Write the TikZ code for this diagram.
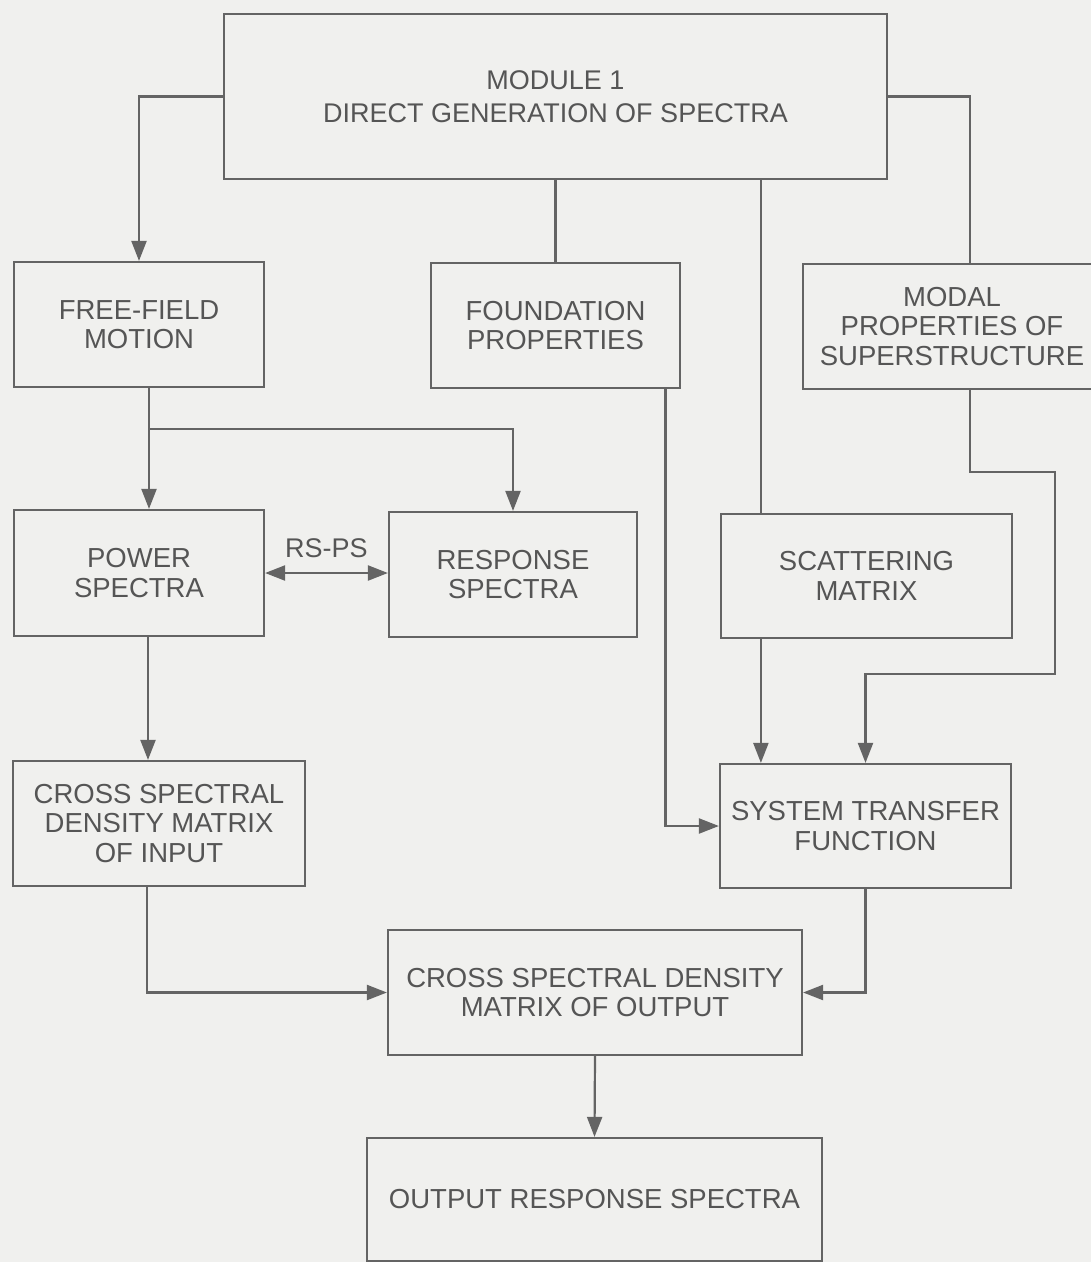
\documentclass[tikz,border=0pt]{standalone}
\usepackage{fontspec}
\setmainfont{Liberation Sans}
\usetikzlibrary{arrows.meta,calc}
\definecolor{bgc}{RGB}{240,240,238}
\definecolor{lnc}{RGB}{100,100,100}
\definecolor{txc}{RGB}{85,85,85}
\begin{document}
\begin{tikzpicture}[x=1pt,y=-1pt,
  box/.style={draw=lnc, line width=2.2pt, inner sep=0pt, align=center, text=txc,
              font=\fontsize{27.5}{29.5}\selectfont},
  conn/.style={draw=lnc, line width=2.2pt},
  arr/.style={conn, -{Triangle[length=20pt,width=15pt]}},
  darr/.style={conn, {Triangle[length=20pt,width=15pt]}-{Triangle[length=20pt,width=15pt]}},
  lab/.style={text=txc, font=\fontsize{27}{29}\selectfont}
]
\fill[bgc] (0,0) rectangle (1091,1262);
\useasboundingbox (0,0) rectangle (1091,1262);

% nodes
\node[box, minimum width=663pt, minimum height=165pt, font=\fontsize{27}{33}\selectfont] (mod) at (555.5,96.5) {MODULE 1\\DIRECT GENERATION OF SPECTRA};
\node[box, minimum width=250pt, minimum height=125pt] (ff) at (139,324.5) {FREE-FIELD\\MOTION};
\node[box, minimum width=249pt, minimum height=125pt] (fp) at (555.5,325.5) {FOUNDATION\\PROPERTIES};
\node[box, minimum width=298pt, minimum height=125pt] (mp) at (952,326.5) {MODAL\\PROPERTIES OF\\SUPERSTRUCTURE};
\node[box, minimum width=250pt, minimum height=126pt] (ps) at (139,573) {POWER\\SPECTRA};
\node[box, minimum width=248pt, minimum height=125pt] (rs) at (513,574.5) {RESPONSE\\SPECTRA};
\node[box, minimum width=291pt, minimum height=124pt] (sm) at (866.5,576) {SCATTERING\\MATRIX};
\node[box, minimum width=292pt, minimum height=125pt] (csi) at (159,823.5) {CROSS SPECTRAL\\DENSITY MATRIX\\OF INPUT};
\node[box, minimum width=291pt, minimum height=124pt] (stf) at (865.5,826) {SYSTEM TRANSFER\\FUNCTION};
\node[box, minimum width=414pt, minimum height=125pt] (cso) at (595,992.5) {CROSS SPECTRAL DENSITY\\MATRIX OF OUTPUT};
\node[box, minimum width=455pt, minimum height=123pt] (ors) at (594.5,1199.5) {OUTPUT RESPONSE SPECTRA};

% connectors from module 1
\draw[arr] (mod.west) -| (ff.north);
\draw[conn] (fp.north) -- (fp.north |- mod.south);
\coordinate (smx) at ($(sm.north west)+(41,0)$);
\draw[conn] (smx |- mod.south) -- (smx);
\coordinate (mpx) at ($(mp.north)+(18,0)$);
\draw[conn] (mod.east) -| (mpx);

% modal properties to system transfer function
\draw[arr] ($(mp.south)+(18,0)$) -- ++(0,82) -- ++(85,0) -- ++(0,202) -| (stf.north);
% scattering matrix to system transfer function
\draw[arr] ($(sm.south west)+(41,0)$) -- ($(stf.north west)+(42,0)$);
% foundation properties to system transfer function
\draw[arr] ($(fp.south)+(110,0)$) |- (stf.west);

% free-field motion branches
\coordinate (ffx) at ($(ff.south)+(10,0)$);
\draw[arr] (ffx) -- (ffx |- ps.north);
\draw[arr] ($(ffx)+(0,41)$) -| (rs.north);

% RS-PS
\draw[darr] (ps.east) -- node[lab, midway, yshift=25pt] (rsps) {RS-PS} (ps.east -| rs.west);

% power spectra to cross spectral density of input
\draw[arr] ($(ps.south)+(9,0)$) -- ($(csi.north)+(-11,0)$);

% to cross spectral density of output
\draw[arr] ($(csi.south)+(-12,0)$) |- (cso.west);
\draw[arr] (stf.south) |- (cso.east);
\draw[arr] (cso.south) -- (ors.north);
\end{tikzpicture}
\end{document}
